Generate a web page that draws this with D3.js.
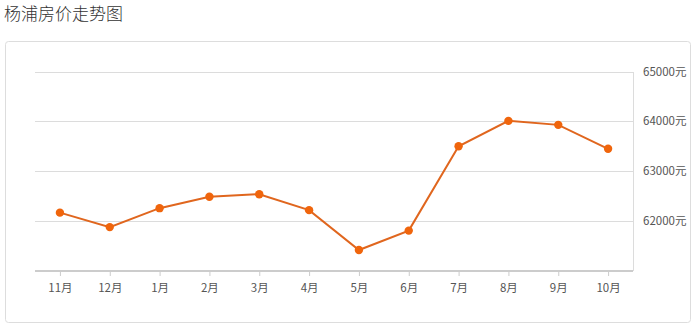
<!DOCTYPE html>
<html>
<head>
<meta charset="utf-8">
<script src="https://cdn.jsdelivr.net/npm/d3@7"></script>
<style>
  body { margin: 0; background: #fff; font-family: "Noto Sans CJK SC", "Microsoft YaHei", sans-serif; }
  #chart svg { display: block; }
</style>
</head>
<body>
<div id="chart"></div>
<script>
const title = "杨浦房价走势图";
const months = ["11月", "12月", "1月", "2月", "3月", "4月", "5月", "6月", "7月", "8月", "9月", "10月"];
const prices = [62170, 61880, 62260, 62490, 62540, 62220, 61420, 61810, 63500, 64010, 63930, 63450];
const yTicks = [62000, 63000, 64000, 65000];

const width = 696, height = 328;
const plot = {left: 35, right: 633, top: 71.5, bottom: 271};

const svg = d3.select("#chart").append("svg")
    .attr("width", width)
    .attr("height", height);

// title
svg.append("text")
    .attr("x", 4)
    .attr("y", 20)
    .attr("font-size", "17px")
    .attr("font-weight", 300)
    .attr("fill", "#333")
    .text(title);

// panel frame
svg.append("rect")
    .attr("x", 5.5).attr("y", 41.5)
    .attr("width", 685).attr("height", 281)
    .attr("rx", 3)
    .attr("fill", "#fff")
    .attr("stroke", "#ddd");

const x = d3.scalePoint()
    .domain(months)
    .range([plot.left, plot.right])
    .padding(0.5);

const y = d3.scaleLinear()
    .domain([61000, 65000])
    .range([plot.bottom, plot.top]);

// gridlines
svg.append("g")
    .selectAll("line")
    .data(yTicks)
    .enter().append("line")
    .attr("x1", plot.left).attr("x2", plot.right)
    .attr("y1", d => Math.round(y(d)) + 0.5)
    .attr("y2", d => Math.round(y(d)) + 0.5)
    .attr("stroke", "#dcdcdc");

// right axis line
svg.append("line")
    .attr("x1", plot.right + 0.5).attr("x2", plot.right + 0.5)
    .attr("y1", Math.round(y(65000))).attr("y2", plot.bottom)
    .attr("stroke", "#dcdcdc");

// y labels
svg.append("g")
    .selectAll("text")
    .data(yTicks)
    .enter().append("text")
    .attr("x", plot.right + 10)
    .attr("y", d => y(d))
    .attr("dy", "0.35em")
    .attr("font-size", "11.5px")
    .attr("fill", "#555")
    .text(d => d + "元");

// x axis
const xAxis = svg.append("g")
    .attr("transform", `translate(0,${plot.bottom})`)
    .call(d3.axisBottom(x).tickSize(5).tickSizeOuter(0).tickPadding(8));
xAxis.select(".domain")
    .attr("stroke", "#ccc")
    .attr("stroke-width", 2)
    .attr("d", `M${plot.left},0H${plot.right}`);
xAxis.selectAll(".tick line").attr("stroke", "#ccc");
xAxis.selectAll(".tick text")
    .attr("font-size", "11.5px")
    .attr("font-family", "Noto Sans CJK SC, sans-serif")
    .attr("fill", "#555");

// line
const line = d3.line()
    .x((d, i) => x(months[i]))
    .y(d => y(d));

svg.append("path")
    .datum(prices)
    .attr("d", line)
    .attr("fill", "none")
    .attr("stroke", "#e0661e")
    .attr("stroke-width", 2);

svg.append("g")
    .selectAll("circle")
    .data(prices)
    .enter().append("circle")
    .attr("cx", (d, i) => x(months[i]))
    .attr("cy", d => y(d))
    .attr("r", 4.2)
    .attr("fill", "#f0650c");
</script>
</body>
</html>
